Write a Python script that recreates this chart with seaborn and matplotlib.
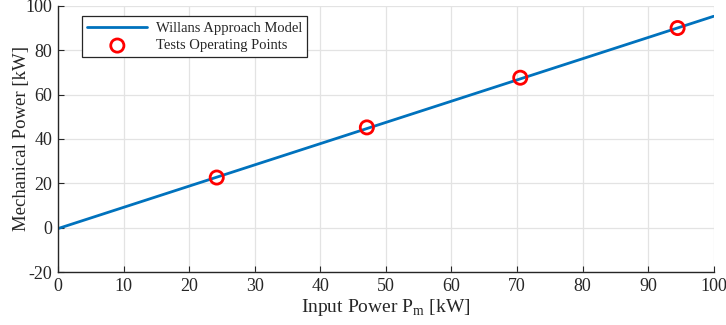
import numpy as np
import pandas as pd
import seaborn as sns
import matplotlib
matplotlib.use("Agg")
import matplotlib.pyplot as plt

# Data
model_x = [0, 100]
model_y = [-0.4, 95.3]
test_x = [24.2, 47.1, 70.5, 94.5]
test_y = [22.6, 45.2, 67.6, 90.0]

x_ticks = [0, 10, 20, 30, 40, 50, 60, 70, 80, 90, 100]
y_ticks = [-20, 0, 20, 40, 60, 80, 100]

sns.set_theme(style="white")
plt.rcParams['font.family'] = ['Liberation Serif', 'DejaVu Serif']
plt.rcParams['mathtext.fontset'] = 'custom'
plt.rcParams['mathtext.rm'] = 'Liberation Serif'
plt.rcParams['axes.unicode_minus'] = False

fig, ax = plt.subplots(figsize=(7.26, 3.25), dpi=100)
fig.subplots_adjust(left=0.08, right=0.983, top=0.982, bottom=0.163)

df_line = pd.DataFrame({"x": model_x, "y": model_y})
df_pts = pd.DataFrame({"x": test_x, "y": test_y})

sns.lineplot(data=df_line, x="x", y="y", ax=ax, color="#0072BD", lw=2,
             label="Willans Approach Model")
sns.scatterplot(data=df_pts, x="x", y="y", ax=ax, marker="o", s=90,
                facecolor="none", edgecolor="#FF0000", linewidth=2,
                label="Tests Operating Points", zorder=5)

ax.set_xlim(0, 100)
ax.set_ylim(-20, 100)
ax.set_xticks(x_ticks)
ax.set_yticks(y_ticks)
ax.grid(True, color="#E3E3E3", lw=0.9)
ax.set_axisbelow(True)
for s in ["top", "right"]:
    ax.spines[s].set_visible(False)
for s in ["left", "bottom"]:
    ax.spines[s].set_color("#262626")
    ax.spines[s].set_linewidth(1.0)
ax.tick_params(direction="in", length=4, width=0.8, color="#262626",
               labelsize=13, labelcolor="#262626", pad=4,
               left=True, bottom=True)
ax.set_xlabel(r"Input Power P$_{\mathrm{m}}$ [kW]", fontsize=14, color="#262626", labelpad=2)
ax.set_ylabel("Mechanical Power [kW]", fontsize=13.5, color="#262626", labelpad=-3)

leg = ax.legend(loc="upper left", bbox_to_anchor=(0.037, 0.96), borderaxespad=0,
                fontsize=10.5, frameon=True, fancybox=False, edgecolor="#262626",
                framealpha=1, handlelength=4.1, borderpad=0.35,
                labelspacing=0.3, handletextpad=0.6)
leg.get_frame().set_linewidth(0.9)

fig.savefig("out.png", dpi=100)
